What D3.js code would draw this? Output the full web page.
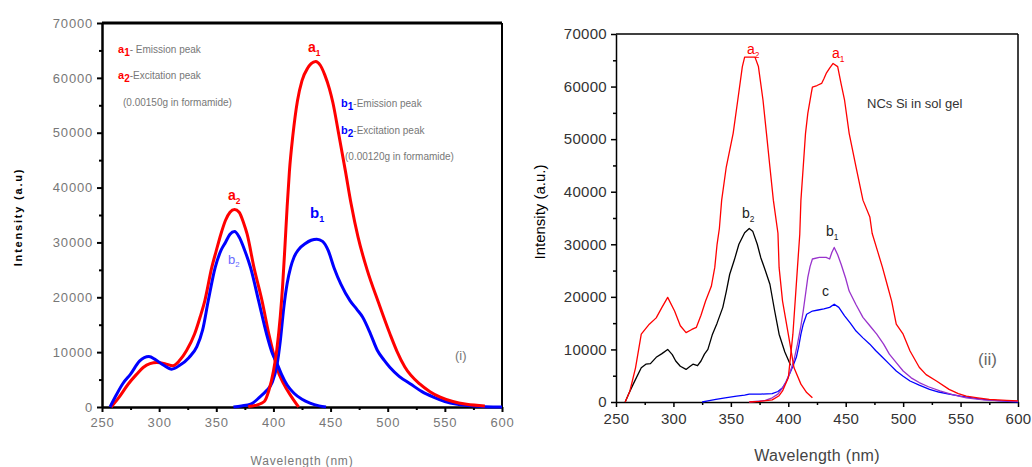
<!DOCTYPE html>
<html>
<head>
<meta charset="utf-8">
<script src="https://cdn.jsdelivr.net/npm/d3@7"></script>
<style>
  body { margin: 0; background: #fff; }
  svg { font-family: "Liberation Sans", Arial, sans-serif; }
</style>
</head>
<body>
<svg id="chart" width="1032" height="467"></svg>
<script>
// ---- data: [wavelength nm, intensity a.u.] ----
var xTicks = [250, 300, 350, 400, 450, 500, 550, 600];
var yTicks = [0, 10000, 20000, 30000, 40000, 50000, 60000, 70000];

// panel (i)
var leftA2 = [[258,0],[265,1800],[273,4200],[280,5900],[286,7200],[292,7900],[298,8100],[305,7900],[312,7500],[318,8500],[324,10300],[331,13300],[336,16500],[340,19400],[346,25400],[350,28500],[354,31500],[358,34000],[362,35500],[366,36000],[370,35500],[374,33500],[377,31500],[383,25400],[390,19400],[396,13300],[400,9800],[403,7200],[409,4200],[416,1800],[422,0]];
var leftB2 = [[257,0],[262,2000],[268,4200],[275,6000],[283,8400],[291,9200],[297,8600],[304,7600],[311,6900],[318,7600],[326,9000],[333,11000],[338,14000],[343,19400],[349,25400],[354,28500],[358,30000],[362,31500],[366,32000],[370,31000],[375,28500],[380,25400],[387,19400],[394,13300],[399,9800],[403,8000],[407,6000],[412,4000],[418,2500],[425,1400],[432,700],[440,200],[446,0]];
var leftB1 = [[365,0],[372,200],[380,500],[388,1800],[394,3000],[399,4500],[403,7500],[406,12000],[409,18000],[412,22500],[415,25400],[418,27300],[422,28700],[428,29800],[433,30400],[438,30600],[443,30200],[448,28500],[453,25400],[459,22400],[467,19400],[473,17800],[478,16400],[485,13300],[491,10300],[497,8500],[502,7200],[510,5600],[520,4200],[530,2800],[540,1800],[550,1000],[561,500],[575,200],[600,0]];
var leftA1 = [[378,100],[386,400],[392,1000],[396,3000],[400,6500],[403,10500],[406,16500],[408,22000],[410,29000],[412,36500],[414,43000],[417,49500],[421,55800],[425,59500],[430,61800],[433,62600],[437,63000],[441,62300],[445,60500],[449,58000],[452,55500],[457,49900],[463,43000],[468,37000],[474,31000],[482,25000],[492,19000],[502,13300],[508,10200],[515,7300],[528,4200],[537,2800],[546,1800],[557,1000],[569,500],[585,200]];

// panel (ii)
var rightA2 = [[258,0],[262,2000],[267,6500],[272,12900],[279,14800],[285,16000],[290,18000],[295,19900],[301,17300],[306,14500],[311,13200],[316,13800],[320,14200],[324,16500],[328,19200],[333,22000],[336,25600],[338,30000],[340,33000],[342,38400],[346,44700],[352,51100],[356,57400],[360,63800],[362,65600],[371,65600],[374,63800],[378,57400],[381,51100],[384,44700],[387,38400],[391,32100],[392,25600],[395,19200],[400,12900],[405,6500],[411,3400],[416,1800],[421,800]];
var rightA1 = [[366,0],[375,100],[386,400],[392,1200],[395,2100],[400,4600],[404,12900],[406,19200],[408,25600],[410,31900],[411,38400],[413,44700],[415,51100],[417,54900],[420,58700],[421,59900],[425,60200],[429,60600],[431,61500],[433,62500],[436,63500],[439,64400],[443,63800],[446,60500],[449,57400],[453,51100],[459,44700],[465,38400],[471,35200],[473,32100],[478,28500],[482,25600],[486,22400],[490,19200],[494,14800],[500,12900],[506,9700],[514,6600],[520,5200],[529,4000],[540,2400],[548,1600],[555,1100],[565,800],[575,500],[590,300],[600,200]];
var rightB2 = [[258,0],[261,1500],[265,3400],[272,6500],[276,7200],[280,7300],[285,8500],[290,9200],[295,10000],[299,9000],[302,7800],[306,6800],[311,6200],[314,6700],[317,7200],[321,6900],[324,7800],[327,9100],[330,10000],[334,12900],[338,15000],[343,18000],[346,21000],[349,24300],[353,27000],[357,30000],[362,32200],[366,33000],[369,32500],[373,30000],[376,27500],[380,25000],[384,22400],[388,17500],[392,12900],[397,9500],[402,7000]];
var rightB1 = [[366,0],[380,300],[386,800],[391,1500],[395,2700],[398,3800],[401,5300],[405,8000],[408,11000],[411,14500],[413,17300],[415,20500],[417,23700],[419,25800],[421,27200],[427,27500],[433,27500],[436,27200],[438,28500],[440,29400],[443,28000],[446,26200],[450,23500],[453,21100],[459,18500],[465,16100],[471,14500],[477,12900],[483,11000],[488,9100],[494,7500],[500,5900],[507,4600],[514,3700],[522,2900],[532,2100],[543,1400],[555,800],[570,400],[585,200],[600,100]];
var rightC = [[325,0],[330,200],[337,500],[345,800],[355,1100],[362,1300],[366,1500],[376,1500],[386,1600],[391,2000],[395,2700],[398,3800],[401,5300],[404,6800],[407,8500],[409,10500],[411,12900],[413,14800],[416,16700],[421,17300],[426,17500],[431,17700],[436,18000],[440,18600],[444,18000],[449,16400],[454,15000],[459,13500],[465,12200],[471,11000],[476,9800],[482,8500],[488,7200],[494,5900],[500,4900],[506,4000],[514,3200],[523,2400],[531,1900],[540,1500],[550,1100],[560,800],[569,500],[585,200],[600,0]];

var svg = d3.select("#chart");

function panel(cfg) {
  var x = d3.scaleLinear().domain([250, 600]).range([cfg.left, cfg.right]);
  var y = d3.scaleLinear().domain([0, 70000]).range([cfg.bottom, cfg.top]);
  var g = svg.append("g");

  // frame
  g.append("line").attr("x1", cfg.left).attr("x2", cfg.right).attr("y1", cfg.top).attr("y2", cfg.top)
    .attr("stroke", "#000").attr("stroke-width", cfg.frameTop);
  g.append("line").attr("x1", cfg.right).attr("x2", cfg.right).attr("y1", cfg.top).attr("y2", cfg.bottom)
    .attr("stroke", "#000").attr("stroke-width", cfg.frameRight);

  // minor ticks
  g.append("g").attr("transform", "translate(0," + cfg.bottom + ")")
    .call(d3.axisBottom(x).tickValues(d3.range(275, 600, 50)).tickSize(3).tickSizeOuter(0).tickFormat(""))
    .call(function(a) { a.select(".domain").remove(); a.selectAll("line").attr("stroke-width", cfg.tickW); });
  g.append("g").attr("transform", "translate(" + cfg.left + ",0)")
    .call(d3.axisLeft(y).tickValues(d3.range(5000, 70000, 10000)).tickSize(3).tickSizeOuter(0).tickFormat(""))
    .call(function(a) { a.select(".domain").remove(); a.selectAll("line").attr("stroke-width", cfg.tickW); });

  // major axes
  var xa = g.append("g").attr("transform", "translate(0," + cfg.bottom + ")")
    .call(d3.axisBottom(x).tickValues(xTicks).tickFormat(d3.format("d")).tickSize(5).tickSizeOuter(0).tickPadding(6));
  var ya = g.append("g").attr("transform", "translate(" + cfg.left + ",0)")
    .call(d3.axisLeft(y).tickValues(yTicks).tickFormat(d3.format("d")).tickSize(5).tickSizeOuter(0).tickPadding(4));
  [xa, ya].forEach(function(a) {
    a.select(".domain").attr("stroke-width", cfg.axisW);
    a.selectAll("line").attr("stroke-width", cfg.tickW);
    a.selectAll("text").attr("font-size", cfg.tickFont).attr("fill", cfg.tickColor)
      .attr("letter-spacing", cfg.tickSpacing)
      .attr("font-family", "Liberation Sans, Arial, sans-serif");
  });

  // axis titles
  g.append("text").attr("x", (cfg.left + cfg.right) / 2).attr("y", cfg.xLabelY)
    .attr("text-anchor", "middle").attr("font-size", cfg.labelFont).attr("fill", cfg.xLabelColor)
    .attr("letter-spacing", cfg.tickSpacing)
    .text("Wavelength (nm)");
  g.append("text").attr("transform", "translate(" + cfg.yLabelX + "," + cfg.yLabelY + ") rotate(-90)")
    .attr("text-anchor", "middle").attr("font-size", cfg.yLabelFont).attr("font-weight", cfg.yLabelWeight)
    .attr("letter-spacing", cfg.yLabelSpacing).attr("fill", "#000")
    .text(cfg.yLabel);

  var line = d3.line().x(function(d) { return x(d[0]); }).y(function(d) { return y(d[1]); }).curve(cfg.curve);
  cfg.series.forEach(function(s) {
    g.append("path").datum(s.data).attr("fill", "none").attr("stroke", s.color)
      .attr("stroke-width", cfg.lineW).attr("stroke-linejoin", "round").attr("d", line);
  });
  return g;
}

// subscripted label like a1, b2
function subLabel(g, px, py, letter, sub, color, size, weight) {
  var t = g.append("text").attr("x", px).attr("y", py).attr("font-size", size)
    .attr("fill", color).attr("font-weight", weight || "normal");
  t.append("tspan").text(letter);
  t.append("tspan").attr("dy", size * 0.25).attr("font-size", size * 0.6).text(sub);
  return t;
}

// ---- panel (i) ----
var g1 = panel({
  left: 102, right: 502, top: 23, bottom: 407,
  frameTop: 3, frameRight: 2, axisW: 2.5, tickW: 2, lineW: 3,
  tickFont: 13, tickColor: "#777", tickSpacing: 0.8, labelFont: 12, xLabelColor: "#777", xLabelY: 465,
  yLabel: "Intensity (a.u)", yLabelX: 22, yLabelY: 217, yLabelFont: 11, yLabelWeight: "bold", yLabelSpacing: 1.8,
  curve: d3.curveMonotoneX,
  series: [
    { data: leftA2, color: "#ff0000" },
    { data: leftB2, color: "#0000ff" },
    { data: leftB1, color: "#0000ff" },
    { data: leftA1, color: "#ff0000" }
  ]
});

subLabel(g1, 308, 52, "a", "1", "#ff0000", 14, "bold");
subLabel(g1, 228, 200, "a", "2", "#ff0000", 14, "bold");
subLabel(g1, 310, 218, "b", "1", "#0000ff", 15, "bold");
subLabel(g1, 228, 264, "b", "2", "#6a6aff", 13, "normal");

var legendRows = [
  { x: 118, y: 53, letter: "a", sub: "1", color: "#ff0000", text: "- Emission peak" },
  { x: 118, y: 79, letter: "a", sub: "2", color: "#ff0000", text: "-Excitation peak" },
  { x: 341, y: 107, letter: "b", sub: "1", color: "#0000ff", text: "-Emission peak" },
  { x: 341, y: 134, letter: "b", sub: "2", color: "#0000ff", text: "-Excitation peak" }
];
legendRows.forEach(function(r) {
  var t = g1.append("text").attr("x", r.x).attr("y", r.y).attr("font-size", 10).attr("fill", "#777");
  t.append("tspan").attr("fill", r.color).attr("font-weight", "bold").attr("font-size", 11).text(r.letter);
  t.append("tspan").attr("fill", r.color).attr("font-weight", "bold").attr("font-size", 10).attr("dy", 3).text(r.sub);
  t.append("tspan").attr("dy", -3).text(r.text);
});
g1.append("text").attr("x", 123).attr("y", 106).attr("font-size", 10).attr("fill", "#777").text("(0.00150g in formamide)");
g1.append("text").attr("x", 345).attr("y", 160).attr("font-size", 10).attr("fill", "#777").text("(0.00120g in formamide)");
g1.append("text").attr("x", 455).attr("y", 360).attr("font-size", 13).attr("fill", "#777").text("(i)");

// ---- panel (ii) ----
var g2 = panel({
  left: 616, right: 1018, top: 34, bottom: 402,
  frameTop: 1.5, frameRight: 1.5, axisW: 1.5, tickW: 1.5, lineW: 1.3,
  tickFont: 15, tickColor: "#333", tickSpacing: 0.3, labelFont: 16, xLabelColor: "#444", xLabelY: 461,
  yLabel: "Intensity (a.u.)", yLabelX: 545, yLabelY: 212, yLabelFont: 15, yLabelWeight: "normal", yLabelSpacing: 0,
  curve: d3.curveLinear,
  series: [
    { data: rightB2, color: "#000000" },
    { data: rightC, color: "#0000ff" },
    { data: rightB1, color: "#9933cc" },
    { data: rightA2, color: "#ff0000" },
    { data: rightA1, color: "#ff0000" }
  ]
});

subLabel(g2, 747, 54, "a", "2", "#ff0000", 14);
subLabel(g2, 832, 58, "a", "1", "#ff0000", 14);
subLabel(g2, 742, 218, "b", "2", "#222", 14);
subLabel(g2, 826, 236, "b", "1", "#222", 14);
g2.append("text").attr("x", 822).attr("y", 296).attr("font-size", 14).attr("fill", "#222").text("c");
g2.append("text").attr("x", 867).attr("y", 108).attr("font-size", 13).attr("fill", "#333").text("NCs Si in sol gel");
g2.append("text").attr("x", 978).attr("y", 365).attr("font-size", 17).attr("fill", "#666").text("(ii)");
</script>
</body>
</html>
